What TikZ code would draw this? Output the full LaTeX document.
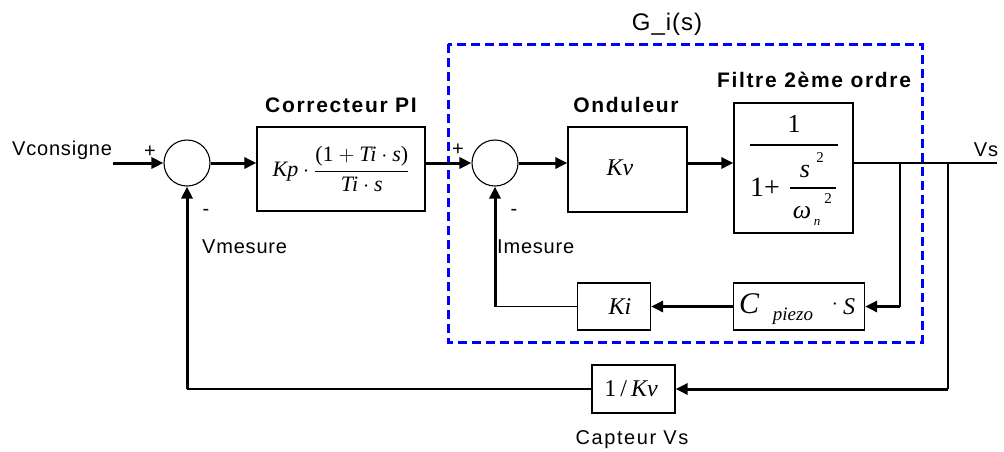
\RequirePackage{fix-cm}
\documentclass[tikz,border=0pt]{standalone}
\usepackage{amsmath}
\usepackage{fontspec}
\setmainfont{Liberation Sans}
\newfontfamily\tms{Liberation Serif}
\newfontfamily\lblfont[LetterSpace=8]{Liberation Sans}
\newfontfamily\regfont[LetterSpace=4]{Liberation Sans}
\usetikzlibrary{arrows.meta}
\newcommand{\ti}[1]{\mbox{\tms\itshape #1}}
\newcommand{\tr}[1]{\mbox{\tms #1}}
\begin{document}
\begin{tikzpicture}[x=1pt,y=-1pt,
  blk/.style={draw, line width=1.3pt, fill=white, rectangle, inner sep=0pt},
  sumnode/.style={draw, line width=1.1pt, circle, inner sep=0pt, minimum size=46pt},
  thk/.style={line width=3pt},
  thn/.style={line width=1.3pt},
  med/.style={line width=2pt},
  bar/.style={line width=1.4pt},
  arr/.style={-{Triangle[length=12pt,width=11pt]}},
  lbl/.style={font=\fontsize{21}{25}\selectfont\lblfont\bfseries, inner sep=0pt},
  txt/.style={font=\fontsize{20}{24}\selectfont\regfont, inner sep=0pt},
  mth/.style={inner sep=0pt, font=\fontsize{#1}{#1}\selectfont\tms},
  mit/.style={inner sep=0pt, font=\fontsize{#1}{#1}\selectfont\tms\itshape},
  gbox/.style={draw=blue, line width=3pt, dash pattern=on 9pt off 5pt}]
\useasboundingbox (0,0) rectangle (1004,451);

% G_i(s) dashed frame
\draw[gbox] (448,44) rectangle (922,342);
\node[font=\fontsize{24}{28}\selectfont\regfont, inner sep=0pt] (gi) at (667,24) {G\_i(s)};

% summing junctions
\node[sumnode] (s1) at (187,163) {};
\node[sumnode] (s2) at (495,163) {};

% blocks
\node[blk, minimum width=168pt, minimum height=84pt] (pi) at (341,169)
  {\fontsize{22}{26}\selectfont$\ti{Kp}\cdot\dfrac{\tr{(1}+\ti{Ti}\cdot \ti{s}\tr{)}}{\ti{Ti}\cdot\ti{s}}$};
\node[blk, minimum width=119pt, minimum height=85pt] (ond) at (627.5,169.5) {};
\node[mit=24] (kvt) at (620,168) {Kv};
\node[blk, minimum width=119pt, minimum height=130pt] (filt) at (793.5,168) {};
\node[blk, minimum width=131pt, minimum height=47pt] (cp) at (799,306.5) {};
\node[blk, minimum width=73pt, minimum height=47pt] (ki) at (614,306.5) {};
\node[mit=24] (kit) at (620,307) {Ki};
\node[blk, minimum width=83pt, minimum height=48pt] (kv) at (633.5,389) {};
\node[mth=24] (kvinv) at (631,389) {1\,/\,\itshape Kv};

% second-order filter expression
\node[mth=26] (fnum) at (794,124) {1};
\draw[bar] (750,145) -- (838,145);
\node[mth=28, anchor=base] (fone) at (765,196) {1+};
\node[mit=26] (fs) at (805,171) {s};
\node[mth=15] (fs2) at (820,158) {2};
\draw[bar] (790,188) -- (836,188);
\node[mit=26] (fw) at (802,213) {ω};
\node[mit=13] (fwn) at (817,222) {n};
\node[mth=15] (fw2) at (828,199) {2};

% C_piezo . S expression
\node[mit=30] (cc) at (749,304) {C};
\node[mit=19] (cpz) at (793,316) {piezo};
\node[mth=22] (cdot) at (835,305) {$\cdot$};
\node[mit=24] (cs) at (849,307) {S};

% labels
\node[lbl] (lpi) at (341,105) {Correcteur PI};
\node[lbl] (lond) at (626,105) {Onduleur};
\node[lbl] (lfilt) at (814,80) {Filtre 2ème ordre};
\node[txt, anchor=west] (vc) at (12,150) {Vconsigne};
\node[txt] (vs) at (986,150) {Vs};
\node[txt] (p1) at (150,152) {+};
\node[txt] (p2) at (458,150) {+};
\node[txt] (m1) at (206,212) {-};
\node[txt] (m2) at (514,212) {-};
\node[txt, anchor=west] (vm) at (202,247) {Vmesure};
\node[txt, anchor=west] (im) at (497,247) {Imesure};
\node[txt, font=\fontsize{20}{24}\selectfont\lblfont] (cap) at (632,440) {Capteur Vs};

% coordinates
\coordinate (in) at (113,163);
\coordinate (out) at (997,163);
\coordinate (b1) at (900,163);
\coordinate (b2) at (948,163);

% forward path
\draw[thk,arr] (in) -- (s1.west);
\draw[thk,arr] (s1.east) -- (pi.west |- s1.east);
\draw[thk,arr] (pi.east |- s1.east) -- (s2.west);
\draw[thk,arr] (s2.east) -- (ond.west |- s2.east);
\draw[thk,arr] (ond.east |- s2.east) -- (filt.west |- s2.east);
\draw[thn] (filt.east |- s2.east) -- (out);

% inner current loop
\draw[med] (b1) -- (b1 |- cp.east);
\draw[thk,arr] (b1 |- cp.east) -- (cp.east);
\draw[thk,arr] (cp.west) -- (ki.east);
\draw[thn] (ki.west) -- (s2.south |- ki.west);
\draw[thk,arr] (s2.south |- ki.west) -- (s2.south);

% outer voltage loop
\draw[med] (b2) -- (b2 |- kv.east);
\draw[thk,arr] (b2 |- kv.east) -- (kv.east);
\draw[thn] (kv.west) -- (s1.south |- kv.west);
\draw[thk,arr] (s1.south |- kv.west) -- (s1.south);
\end{tikzpicture}
\end{document}
